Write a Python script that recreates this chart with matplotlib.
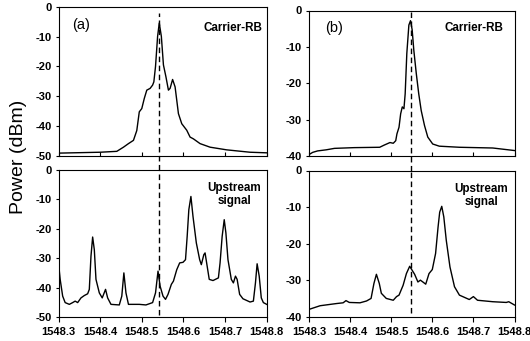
import matplotlib
matplotlib.use("Agg")
import matplotlib.pyplot as plt

plt.rcParams['font.family'] = ['Liberation Sans', 'DejaVu Sans']

# ---- data (wavelength in nm, power in dBm) ----
a_top_x = [1548.300, 1548.400, 1548.440, 1548.456, 1548.468, 1548.480, 1548.488, 1548.494,
           1548.500, 1548.506, 1548.512, 1548.520, 1548.526, 1548.529, 1548.533, 1548.538,
           1548.542, 1548.547, 1548.552, 1548.558, 1548.564, 1548.568, 1548.574, 1548.580,
           1548.588, 1548.596, 1548.608, 1548.616, 1548.624, 1548.640, 1548.664, 1548.704,
           1548.760, 1548.800]
a_top_y = [-49.2, -48.9, -48.6, -47.2, -46.0, -44.9, -41.6, -35.3,
           -34.2, -30.8, -28.0, -27.4, -26.3, -25.2, -20.0, -9.9,
           -5.4, -9.9, -19.5, -23.5, -28.0, -27.4, -24.4, -26.9,
           -35.9, -39.3, -41.5, -43.8, -44.4, -46.0, -47.2, -48.1,
           -48.9, -49.1]

a_bot_x = [1548.300, 1548.304, 1548.310, 1548.316, 1548.326, 1548.334, 1548.340, 1548.346,
           1548.354, 1548.362, 1548.370, 1548.374, 1548.378, 1548.382, 1548.386, 1548.390,
           1548.398, 1548.405, 1548.413, 1548.418, 1548.426, 1548.446, 1548.452, 1548.457,
           1548.462, 1548.468, 1548.494, 1548.510, 1548.526, 1548.533, 1548.539, 1548.544,
           1548.551, 1548.557, 1548.563, 1548.571, 1548.576, 1548.584, 1548.591, 1548.599,
           1548.605, 1548.609, 1548.613, 1548.618, 1548.623, 1548.631, 1548.639, 1548.643,
           1548.649, 1548.652, 1548.657, 1548.662, 1548.671, 1548.684, 1548.688, 1548.693,
           1548.698, 1548.702, 1548.707, 1548.715, 1548.720, 1548.725, 1548.729, 1548.735,
           1548.743, 1548.760, 1548.768, 1548.773, 1548.777, 1548.782, 1548.787, 1548.792,
           1548.800]
a_bot_y = [-31.6, -37.2, -42.9, -45.1, -45.7, -45.1, -44.6, -45.1,
           -43.5, -42.7, -42.1, -40.6, -29.3, -22.8, -27.1, -37.2,
           -41.8, -43.5, -40.6, -43.5, -45.7, -45.9, -42.9, -35.0,
           -41.8, -45.7, -45.7, -45.9, -45.1, -41.8, -34.4, -39.5,
           -42.9, -44.0, -42.3, -38.9, -37.8, -33.9, -31.6, -31.4,
           -30.5, -22.6, -13.5, -9.0, -15.8, -24.8, -30.5, -32.2,
           -28.8, -28.2, -32.7, -37.2, -37.6, -36.7, -31.6, -22.6,
           -16.9, -21.4, -30.5, -37.2, -38.4, -36.1, -37.2, -42.3,
           -43.8, -44.9, -44.6, -38.4, -31.9, -36.1, -43.5, -45.1,
           -45.7]

b_top_x = [1548.300, 1548.309, 1548.321, 1548.342, 1548.362, 1548.410, 1548.472, 1548.483,
           1548.497, 1548.505, 1548.511, 1548.514, 1548.519, 1548.523, 1548.527, 1548.531,
           1548.534, 1548.538, 1548.543, 1548.547, 1548.551, 1548.555, 1548.561, 1548.567,
           1548.573, 1548.581, 1548.589, 1548.601, 1548.617, 1548.666, 1548.747, 1548.800]
b_top_y = [-39.6, -39.0, -38.6, -38.3, -37.9, -37.7, -37.6, -37.0,
           -36.3, -36.5, -35.8, -33.9, -32.1, -28.4, -26.5, -27.0,
           -22.9, -11.8, -4.0, -2.8, -5.3, -10.9, -17.3, -22.9,
           -27.5, -31.6, -34.8, -36.7, -37.3, -37.6, -37.8, -38.5]

b_bot_x = [1548.300, 1548.327, 1548.367, 1548.383, 1548.390, 1548.398, 1548.424, 1548.440,
           1548.451, 1548.458, 1548.464, 1548.471, 1548.476, 1548.488, 1548.505, 1548.513,
           1548.519, 1548.529, 1548.537, 1548.545, 1548.551, 1548.557, 1548.565, 1548.571,
           1548.577, 1548.584, 1548.592, 1548.600, 1548.608, 1548.614, 1548.618, 1548.623,
           1548.628, 1548.634, 1548.643, 1548.654, 1548.666, 1548.690, 1548.700, 1548.710,
           1548.747, 1548.780, 1548.786, 1548.800]
b_bot_y = [-38.0, -37.0, -36.4, -36.2, -35.6, -36.1, -36.2, -35.7,
           -35.0, -30.9, -28.4, -30.9, -33.6, -35.0, -35.5, -34.5,
           -34.1, -31.4, -28.2, -26.2, -27.3, -28.4, -30.5, -30.0,
           -30.5, -31.1, -28.2, -27.1, -22.7, -15.5, -11.4, -9.8,
           -12.7, -19.1, -26.4, -31.8, -34.1, -35.3, -34.5, -35.5,
           -35.9, -36.1, -35.9, -36.8]

x_ticks = [1548.3, 1548.4, 1548.5, 1548.6, 1548.7, 1548.8]
x_ticklabels = ["1548.3", "1548.4", "1548.5", "1548.6", "1548.7", "1548.8"]
yticks_a = [0, -10, -20, -30, -40, -50]
yticks_b = [0, -10, -20, -30, -40]

W, H = 530, 341
fig = plt.figure(figsize=(W / 100, H / 100), dpi=100)

def make_ax(px0, px1, py0, py1):
    return fig.add_axes([px0 / W, 1 - py1 / H, (px1 - px0) / W, (py1 - py0) / H])

ax_at = make_ax(58.5, 266.7, 7.0, 155.5)
ax_ab = make_ax(58.5, 266.7, 170.0, 317.0)
ax_bt = make_ax(309.0, 514.5, 10.5, 156.0)
ax_bb = make_ax(309.0, 514.5, 170.5, 316.7)

tick_font = dict(fontsize=8, fontweight='bold')

def style(ax, yticks, bottom_labels):
    ax.set_xlim(1548.3, 1548.8)
    ax.set_ylim(min(yticks), 0)
    ax.set_yticks(yticks)
    ax.set_yticklabels([str(v) for v in yticks], **tick_font)
    ax.set_xticks(x_ticks)
    if bottom_labels:
        ax.set_xticklabels(x_ticklabels, **tick_font)
        ax.tick_params(axis='x', direction='out', length=3.5, width=0.8, pad=4)
    else:
        ax.set_xticklabels([])
        ax.tick_params(axis='x', direction='in', length=3, width=0.8)
    ax.tick_params(axis='y', direction='out', length=2.5, width=0.8, pad=2.5)
    for s in ax.spines.values():
        s.set_linewidth(0.8)

lw = 1.0
ax_at.plot(a_top_x, a_top_y, color='black', lw=lw)
ax_ab.plot(a_bot_x, a_bot_y, color='black', lw=lw)
ax_bt.plot(b_top_x, b_top_y, color='black', lw=lw)
ax_bb.plot(b_bot_x, b_bot_y, color='black', lw=lw)

style(ax_at, yticks_a, False)
style(ax_ab, yticks_a, True)
style(ax_bt, yticks_b, False)
style(ax_bb, yticks_b, True)

dash = dict(color='black', lw=1.0, linestyle=(0, (4, 2.5)), clip_on=False)
ax_at.axvline(1548.542, ymin=-0.098, ymax=0.96, **dash)
ax_ab.axvline(1548.542, ymin=0.017, ymax=1.0, **dash)
ax_bt.axvline(1548.548, ymin=-0.1, ymax=0.99, **dash)
ax_bb.axvline(1548.548, ymin=0.027, ymax=1.0, **dash)

lab_font = dict(fontsize=8.4, fontweight='bold')
ax_at.text(0.98, 0.86, "Carrier-RB", transform=ax_at.transAxes, ha='right', va='center', **lab_font)
ax_bt.text(0.944, 0.88, "Carrier-RB", transform=ax_bt.transAxes, ha='right', va='center', **lab_font)
ax_ab.text(0.844, 0.834, "Upstream\nsignal", transform=ax_ab.transAxes, ha='center', va='center',
           multialignment='center', linespacing=1.1, **lab_font)
ax_bb.text(0.839, 0.832, "Upstream\nsignal", transform=ax_bb.transAxes, ha='center', va='center',
           multialignment='center', linespacing=1.1, **lab_font)
ax_at.text(0.065, 0.88, "(a)", transform=ax_at.transAxes, ha='left', va='center', fontsize=10.5)
ax_bt.text(0.078, 0.88, "(b)", transform=ax_bt.transAxes, ha='left', va='center', fontsize=10.5)

fig.text(18.5 / W, 1 - 157 / H, "Power (dBm)", rotation=90, ha='center', va='center', fontsize=14)

fig.savefig("out.png", dpi=100)
